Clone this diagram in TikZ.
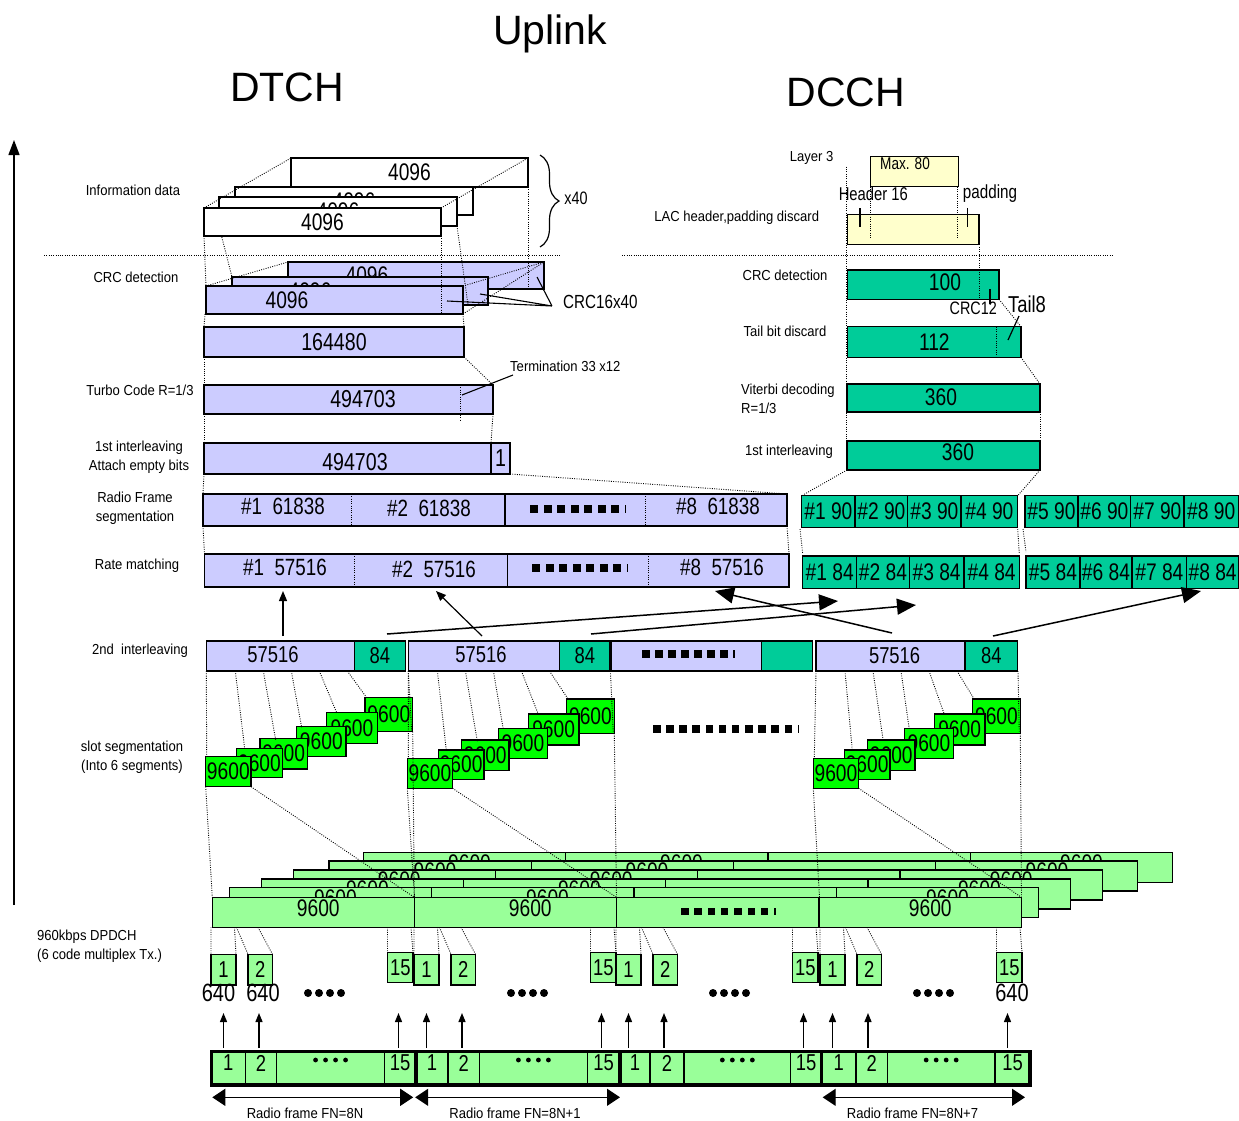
\documentclass[tikz,border=0pt]{standalone}
\usepackage{fontspec}
\setmainfont{Liberation Sans}
\newfontfamily\nar[FakeStretch=0.8]{Liberation Sans}
\newfontfamily\narl[FakeStretch=0.9]{Liberation Sans}
\usetikzlibrary{arrows.meta,decorations.pathreplacing}
\definecolor{lav}{RGB}{204,204,255}
\definecolor{tealc}{RGB}{0,204,153}
\definecolor{lgrn}{RGB}{153,255,153}
\definecolor{bgrn}{RGB}{0,255,0}
\definecolor{lyel}{RGB}{255,255,204}
\newcommand\bx[7]{\node[#6,anchor=north west,minimum width={(#4)-(#2)},minimum height={(#5)-(#3)}] (#1) at ({#2},{#3}) {#7};}
\newcommand\sqd[5]{\foreach \i in {1,...,#3}{\fill ({#1+(\i-1)*#4},{#2-#5/2}) rectangle ++(#5,#5);}\fill ({#1+#3*#4},{#2-#5/2}) rectangle ++(1.8,#5);}
\newcommand\slotg[5]{%
 \bx{#1k6}{#2+159.3}{#3-59.4}{#2+207}{#3-25}{sbox,txt=24}{9600}
 \bx{#1k5}{#2+121}{#3-44.4}{#2+171.6}{#3-13.4}{sbox,txt=24}{9600}
 \bx{#1k4}{#2+91}{#3-30}{#2+140.3}{#3}{sbox,txt=24}{9600}
 \bx{#1k3}{#2+54.3}{#3-18.4}{#2+101.6}{#3+12.3}{sbox,txt=24}{9600}
 \bx{#1k2}{#2+31}{#3-8.4}{#2+76.6}{#3+21}{sbox,txt=24}{9600}
 \bx{#1k1}{#2}{#3}{#2+45.3}{#3+30}{sbox,txt=24}{9600}
 \draw[dl] (#4,671)--({#2+1},{#3}) ({#4+29},671)--({#2+39},{#3-8}) ({#4+57},671)--({#2+70},{#3-17})
   ({#4+85},671)--({#2+96},{#3-29}) ({#4+113},671)--({#2+131},{#3-44}) ({#4+141},671)--({#2+161},{#3-59})
   ({#4+202},671)--({#2+206},{#3-25});
}
\newcommand\slotlow[3]{\draw[dl] ({#1},{#2+30})--({#3},897.3) ({#1+45.3},{#2+30})--({#3+202},897.3) ({#1+207},{#2-25})--({#3+202},897.3);}
\newcommand\dprow[3]{%
 \bx{#1a}{#2}{#3}{#2+202.2}{#3+30}{gbox}{}
 \bx{#1b}{#2+202.2}{#3}{#2+404.4}{#3+30}{gbox}{}
 \bx{#1c}{#2+404.4}{#3}{#2+606.6}{#3+30}{gbox}{}
 \bx{#1d}{#2+606.6}{#3}{#2+808.8}{#3+30}{gbox}{}
 \node[txt=24] (#1ta) at ({#2+106},{#3+10.5}) {9600};
 \node[txt=24] (#1tb) at ({#2+318},{#3+10.5}) {9600};
 \node[txt=24] (#1td) at ({#2+718},{#3+10.5}) {9600};
}
\newcommand\slots[2]{%
 \bx{#1s1}{#2}{954.3}{#2+25}{985}{gbox,txt=23}{1}
 \bx{#1s2}{#2+37}{954.3}{#2+61.5}{985}{gbox,txt=23}{2}
 \bx{#1s15}{#2+176.5}{952.7}{#2+202}{982.3}{gbox,txt=23}{15}
 \foreach \i in {0,...,3}{\fill ({#2+97+\i*11},993) circle (4pt);}
 \draw[dl] (#2,927.3)--(#2,954.3) ({#2+23.5},927.3)--({#2+25},954.3) ({#2+25.5},927.3)--({#2+37},954.3)
   ({#2+47},927.3)--({#2+61.5},954.3) ({#2+176.5},927.3)--({#2+176.5},952.7) ({#2+200},927.3)--({#2+202},952.7);
 \foreach \dx in {12.5,48,187.5}{\draw[line width=1.3pt,-{Triangle[length=9pt,width=7pt]}] ({#2+\dx},1048)--({#2+\dx},1013);}
}
\newcommand\frm[6]{%
 \bx{#1}{#2}{1051.7}{#6}{1085}{gbox,line width=3.2pt}{}
 \draw[line width=1.2pt] (#3,1051.7)--(#3,1085) (#4,1051.7)--(#4,1085) (#5,1051.7)--(#5,1085);
 \node[txt=23] at ({(#2+#3)/2},1063) {1};
 \node[txt=23] at ({(#3+#4)/2},1063) {2};
 \foreach \i in {-1.5,-0.5,0.5,1.5}{\fill ({(#4+#5)/2+\i*10},1060) circle (2.4pt);}
 \node[txt=23] at ({(#5+#6)/2},1063) {15};
}
\begin{document}
\begin{tikzpicture}[x=1pt,y=-1pt,
 box/.style={draw=black,line width=1.2pt,inner sep=0pt,outer sep=0pt},
 wbox/.style={box,fill=white},
 lbox/.style={box,fill=lav},
 tbox/.style={box,fill=tealc},
 ybox/.style={box,fill=lyel},
 gbox/.style={box,fill=lgrn},
 sbox/.style={box,fill=bgrn},
 txt/.style={inner sep=0pt,font=\nar\fontsize{#1}{#1}\selectfont},
 lab/.style={inner sep=0pt,align=center,font=\narl\fontsize{14.5}{19}\selectfont},
 ttl/.style={inner sep=0pt,anchor=base,font=\fontsize{41}{41}\selectfont},
 dl/.style={line width=0.9pt,dash pattern=on 0.9pt off 1.4pt},
 sarr/.style={line width=1.2pt,-{Triangle[length=10pt,width=8pt]}},
 barr/.style={line width=1.5pt,-{Triangle[length=19pt,width=16pt]}}]
\useasboundingbox (0,0) rectangle (1239,1120);

% titles
\node[ttl] (uplink) at (550,44) {Uplink};
\node[ttl] (dtch) at (287,101) {DTCH};
\node[ttl] (dcch) at (846,106) {DCCH};

% axis
\coordinate (axb) at (14,905); \coordinate (axt) at (14,140);
\draw[line width=1.3pt,-{Triangle[length=15pt,width=11pt]}] (axb)--(axt);

% left labels
\node[lab] (l1) at (133,190) {Information data};
\node[lab] (l2) at (136,277) {CRC detection};
\node[lab] (l3) at (140,390) {Turbo Code R=1/3};
\node[lab] (l4) at (139,457) {1st interleaving\\ Attach empty bits};
\node[lab] (l5) at (135,508) {Radio Frame\\segmentation};
\node[lab] (l6) at (137,566) {Rate matching};
\node[lab] (l7) at (140,651) {2nd\ \ interleaving};
\node[lab] (l8) at (132,757) {slot segmentation\\(Into 6 segments)};
\node[lab,anchor=west,align=left] (l9) at (37,946) {960kbps DPDCH\\(6 code multiplex Tx.)};

% separators
\draw[dl] (44,255)--(560,255);
\draw[dl] (622,255)--(1113,255);

% ---------- DTCH ----------
\draw[dl] (219,226)--(232,277);
\bx{i4}{291}{158}{528}{187}{wbox,txt=24}{4096}
\bx{i3}{235}{187}{473}{215}{wbox,txt=24}{4096}
\bx{i2}{219}{197}{457}{226}{wbox,txt=24}{4096}
\bx{i1}{204}{208}{441}{236}{wbox,txt=24}{4096}

\bx{c3}{288}{262}{544}{289}{lbox}{}
\node[txt=24] (c3t) at (367,275.5) {4096};
\bx{c2}{232}{277}{488}{305}{lbox}{}
\node[txt=24] (c2t) at (310,291) {4096};
\bx{c1}{206}{286}{463}{314}{lbox}{}
\node[txt=24] (c1t) at (287,300) {4096};

\draw[dl] (204,208)--(291,158);
\draw[dl] (441,208)--(528,158);
\draw[dl] (204,236)--(206,286);
\draw[dl] (441,236)--(441,314);
\draw[dl] (457,226)--(468,305);
\draw[dl] (528,187)--(528,289);
\draw[dl] (206,286)--(288,262);
\draw[dl] (463,286)--(544,262);
\draw[dl] (463,314)--(544,262);

\draw[line width=1.2pt,decorate,decoration={brace,amplitude=19pt}] (540,155)--(540,247);
\node[txt=18] (x40) at (576,198) {x40};

\node[txt=19,anchor=west] (crc16) at (563,302) {CRC16x40};
\coordinate (cp) at (552,306);
\draw[line width=1.1pt] (cp)--(447,301) (cp)--(480,294) (cp)--(537,277);

\bx{b1}{204}{327}{464}{357}{lbox,txt=24.5}{164480}
\draw[dl] (205,314)--(204,327);
\draw[dl] (463,314)--(464,327);

\bx{tc}{204}{385}{493}{414}{lbox}{}
\node[txt=24.5] (tct) at (363,399) {494703};
\draw[dl] (460,385)--(460,420);
\draw[dl] (204,357)--(204,385);
\draw[dl] (464,357)--(493,385);
\node[lab,anchor=west] (term) at (510,366) {Termination 33 x12};
\draw[line width=1.1pt] (462,395)--(513,375);

\bx{fi}{204}{443}{491}{474}{lbox}{}
\node[txt=24.5] (fit) at (355,462) {494703};
\bx{fi1}{491}{443}{510}{474}{lbox,txt=24.5}{1}
\draw[dl] (204,414)--(204,443);
\draw[dl] (493,414)--(491,443);
\draw[dl] (510,474)--(787,494);
\draw[dl] (204,474)--(203,494);

\bx{rfa}{203}{494}{505}{526}{lbox}{}
\bx{rfb}{505}{494}{787}{526}{lbox}{}
\draw[dl] (351,494)--(351,526);
\draw[dl] (645,494)--(645,526);
\node[txt=23.5] (rf1) at (283,506) {\#1~~61838};
\node[txt=23.5] (rf2) at (429,508) {\#2~~61838};
\sqd{530}{509}{7}{13.5}{8}
\node[txt=23.5] (rf8) at (718,506) {\#8~~61838};

\bx{rma}{204.5}{554}{507.5}{587}{lbox}{}
\bx{rmb}{507.5}{554}{789}{587}{lbox}{}
\draw[dl] (354,554)--(354,587);
\draw[dl] (648,554)--(648,587);
\node[txt=23.5] (rm1) at (285,567) {\#1~~57516};
\node[txt=23.5] (rm2) at (434,569) {\#2~~57516};
\sqd{532}{568}{7}{13.5}{8}
\node[txt=23.5] (rm8) at (722,567) {\#8~~57516};
\draw[dl] (203,526)--(204.5,554);
\draw[dl] (787,526)--(789,554);

% ---------- DCCH ----------
\node[lab] (lay3) at (811.7,158) {Layer 3};
\bx{m80}{870.7}{156.7}{958.3}{186.7}{ybox}{}
\node[txt=17] (m80t) at (905,164) {Max. 80};
\bx{lac}{847.7}{214.7}{979}{244.3}{ybox}{}
\node[txt=18.5] (hdr) at (873.3,194.3) {Header 16};
\node[txt=19] (pad) at (990,193.3) {padding};
\node[lab] (lacl) at (736.7,217.3) {LAC header,padding discard};
\draw[line width=1.3pt] (860,208)--(860,227) (967.7,208)--(967.7,227);
\draw[dl] (870.7,186.7)--(870.7,239);
\draw[dl] (957,186.7)--(957,239);

\node[lab] (crcl2) at (785,275) {CRC detection};
\bx{c100}{847.7}{270}{999}{299.3}{tbox}{}
\node[txt=24] (c100t) at (945,282) {100};
\draw[dl] (979,244.3)--(979,299.3);
\draw[line width=1.3pt] (990,289)--(990,304.3);
\node[txt=18] (crc12) at (973.3,308.5) {CRC12};
\node[txt=23] (tail8) at (1027,304.3) {Tail8};

\node[lab] (tbd) at (785,331.7) {Tail bit discard};
\bx{c112}{847.7}{326.7}{1021}{357.3}{tbox,txt=24}{112}
\draw[dl] (996,326.7)--(996,357.3);
\draw[line width=1.2pt] (1008,340)--(1019,316);
\draw[dl] (999,299.3)--(1021,326.7);

\node[lab,anchor=west,align=left] (vit) at (741,398.5) {Viterbi decoding\\R=1/3};
\bx{v360}{847}{384}{1040}{412}{tbox}{}
\node[txt=24] (v360t) at (941,397) {360};
\draw[dl] (1021,357.3)--(1040,384);

\node[lab] (fil2) at (789,452) {1st interleaving};
\bx{f360}{847}{441}{1040}{470}{tbox}{}
\node[txt=24] (f360t) at (958,452) {360};
\draw[dl] (1040,412)--(1040,441);
\draw[dl] (846.7,166.7)--(846.7,470);
\draw[dl] (847,470)--(803,495);
\draw[dl] (1040,470)--(1017.7,495.7);

\foreach \a/\b/\t in {801.7/855/1,855/907.7/2,907.7/961/3,961/1017.7/4,1025/1078/5,1078/1130.7/6,1130.7/1184/7,1184/1238.5/8}{\bx{rfd\t}{\a}{495.7}{\b}{527.7}{tbox,txt=24}{\#\t\ 90}}
\foreach \a/\b/\t in {802.7/856.7/1,856.7/909.3/2,909.3/964/3,964/1019.3/4,1026/1080/5,1080/1132/6,1132/1186.7/7,1186.7/1238.5/8}{\bx{rmd\t}{\a}{556}{\b}{588.3}{tbox,txt=24}{\#\t\ 84}}
\draw[dl] (800,529)--(802.7,554) (1017.7,529)--(1019.3,554) (1023,529)--(1026,552);

% ---------- 2nd interleaving ----------
\bx{s1a}{206.3}{641}{354.2}{671}{lbox}{}
\node[txt=23] (s1t) at (273,655) {57516};
\bx{s1b}{354.2}{641}{405.7}{671}{tbox,txt=23}{84}
\bx{s2a}{408.4}{641}{559.7}{671}{lbox}{}
\node[txt=23] (s2t) at (481,655) {57516};
\bx{s2b}{559.7}{641}{610}{671}{tbox,txt=23}{84}
\bx{s3a}{611.7}{641}{761.3}{671}{lbox}{}
\sqd{642}{654}{7}{13}{7.5}
\bx{s3b}{761.3}{641}{812.2}{671}{tbox}{}
\bx{s4a}{816}{641}{965}{671}{lbox}{}
\node[txt=23] (s4t) at (894.6,656) {57516};
\bx{s4b}{965}{641}{1017.6}{671}{tbox,txt=23}{84}

\draw[sarr] (283,636)--(283,591);
\draw[sarr] (482,636)--(436,591);
\draw[barr] (387,634)--(838,601);
\draw[barr] (591,634)--(916,605);
\draw[barr] (892,633)--(715,591);
\draw[barr] (993,636)--(1201,591);

% ---------- slot segmentation ----------
\slotg{ga}{205.7}{756.7}{206.3}{212.3}
\slotg{gb}{407.3}{758.3}{408.4}{414.5}
\slotg{gc}{813.3}{758.3}{816}{819.5}
\sqd{653}{729}{11}{13.15}{7.5}

% ---------- DPDCH ----------
\dprow{r6}{363.5}{852.7}
\dprow{r5}{329}{861}
\dprow{r4}{293.3}{870}
\dprow{r3}{261.4}{879}
\dprow{r2}{229.5}{887.7}
\dprow{r1}{212.3}{897.3}
\sqd{681}{911.7}{7}{13.3}{7.5}
\slotlow{205.7}{756.7}{212.3}
\slotlow{407.3}{758.3}{414.5}
\slotlow{813.3}{758.3}{819.5}

% ---------- slots ----------
\slots{sa}{211}
\slots{sb}{414}
\slots{sc}{616}
\slots{sd}{820}
\node[txt=25] (n640a) at (218.5,992.5) {640};
\node[txt=25] (n640b) at (263,992.5) {640};
\node[txt=25] (n640c) at (1012,993) {640};

% ---------- frames ----------
\frm{fa}{211.5}{245.2}{276.8}{384.3}{416}
\frm{fb}{416}{448}{479.6}{587.2}{620}
\frm{fc}{620}{650}{684}{790.7}{821.7}
\frm{fd}{821.7}{856}{887.3}{995}{1030}

\draw[line width=1.3pt,{Triangle[length=13pt,width=17pt]}-{Triangle[length=13pt,width=17pt]}] (212.3,1097.3)--(413.2,1097.3);
\draw[line width=1.3pt,{Triangle[length=13pt,width=17pt]}-{Triangle[length=13pt,width=17pt]}] (415.2,1097.3)--(620,1097.3);
\draw[line width=1.3pt,{Triangle[length=13pt,width=17pt]}-{Triangle[length=13pt,width=17pt]}] (822.7,1097.3)--(1025,1097.3);
\node[lab] (fn0) at (305,1113) {Radio frame FN=8N};
\node[lab] (fn1) at (515,1113) {Radio frame FN=8N+1};
\node[lab] (fn7) at (912.5,1113) {Radio frame FN=8N+7};
\end{tikzpicture}
\end{document}
